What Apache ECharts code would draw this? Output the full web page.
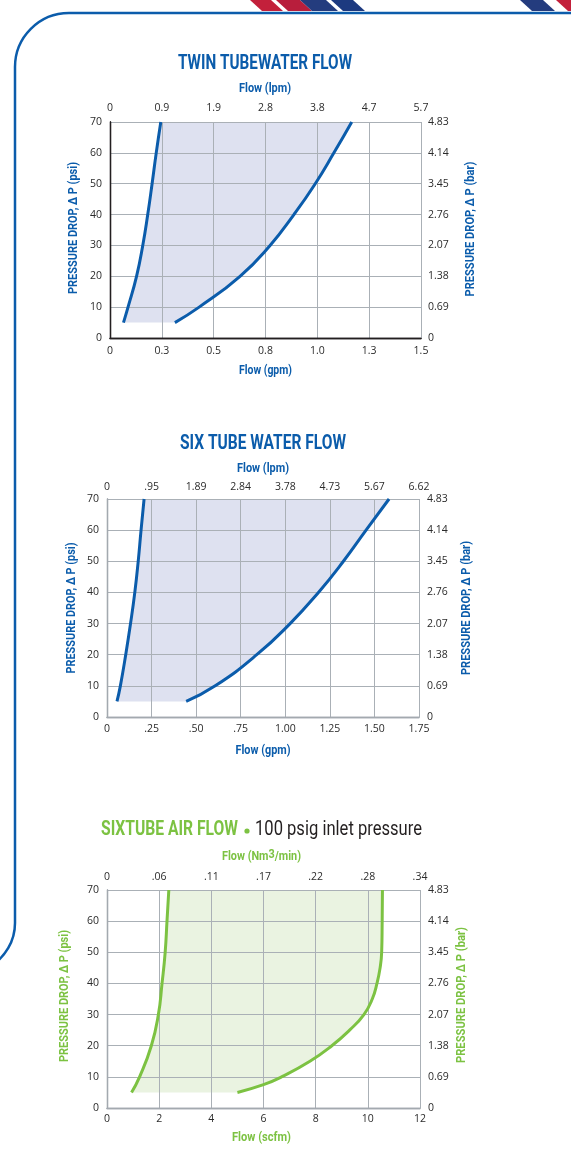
<!DOCTYPE html>
<html><head><meta charset="utf-8">
<script src="https://cdn.jsdelivr.net/npm/echarts@6/dist/echarts.min.js"></script>
<style>html,body{margin:0;padding:0;background:#fff;}#c{width:571px;height:1149px;}</style>
</head><body><div id="c"></div>
<script>
// ---------- DATA ----------
const psiTickLabels = ['0','10','20','30','40','50','60','70'];
const barTickLabels = ['0','0.69','1.38','2.07','2.76','3.45','4.14','4.83'];

// Twin tube water flow (gpm vs psi)
const twinGpmLabels = ['0','0.3','0.5','0.8','1.0','1.3','1.5'];
const twinLpmLabels = ['0','0.9','1.9','2.8','3.8','4.7','5.7'];
const twinLeftPsi  = [5, 10, 20, 30, 40, 50, 60, 70];
const twinLeftGpm  = [0.065, 0.087, 0.128, 0.158, 0.182, 0.203, 0.223, 0.245];
const twinRightPsi = [5, 10, 20, 30, 40, 50, 60, 70];
const twinRightGpm = [0.313, 0.430, 0.627, 0.772, 0.887, 0.990, 1.080, 1.166];

// Six tube water flow (gpm vs psi)
const sixGpmLabels = ['0','.25','.50','.75','1.00','1.25','1.50','1.75'];
const sixLpmLabels = ['0','.95','1.89','2.84','3.78','4.73','5.67','6.62'];
const sixLeftPsi  = [5, 10, 20, 30, 40, 50, 60, 70];
const sixLeftGpm  = [0.056, 0.075, 0.105, 0.132, 0.156, 0.175, 0.191, 0.208];
const sixRightPsi = [5, 10, 20, 30, 40, 50, 60, 70];
const sixRightGpm = [0.444, 0.607, 0.840, 1.027, 1.186, 1.326, 1.453, 1.582];

// Sixtube air flow (scfm vs psi)
const airScfmLabels = ['0','2','4','6','8','10','12'];
const airNm3Labels  = ['0','.06','.11','.17','.22','.28','.34'];
const airLeftPsi  = [5, 10, 20, 30, 40, 50, 60, 70];
const airLeftScfm = [0.94, 1.25, 1.70, 1.97, 2.11, 2.23, 2.30, 2.37];
const airRightPsi  = [5, 7.5, 10, 15, 20, 25, 30, 35, 40, 45, 50, 60, 70];
const airRightScfm = [5.0, 6.0, 6.69, 7.78, 8.62, 9.30, 9.85, 10.17, 10.35, 10.47, 10.53, 10.55, 10.56];

// ---------- STYLE ----------
const BLUE = '#0b5cab', BLUE_FILL = '#dee1f0';
const GREEN = '#7cc242', GREEN_FILL = '#eaf3e1';
const GRIDC = '#aab0b6';
const HEAD = 'Roboto,"Liberation Sans",sans-serif';
const LABELF = '"Open Sans","DejaVu Sans",sans-serif';

const mctx = document.createElement('canvas').getContext('2d');
function fit(text, weight, size, w) {
  mctx.font = weight + ' ' + size + 'px ' + HEAD;
  return w / mctx.measureText(text).width;
}

const charts = [
  { grid:{left:110, top:122, width:311, height:216}, max:1.5, interval:0.25,
    bottom:twinGpmLabels, top:twinLpmLabels, color:BLUE, fill:BLUE_FILL, border:'#231f20',
    margins:{top:8, bottom:8, left:8, right:7},
    names:{ bottom:['Flow (gpm)', 265.5, 371, 53], top:['Flow (lpm)', 265, 89, 52],
            left:['PRESSURE DROP, \u0394 P (psi)', 74, 228, 132], right:['PRESSURE DROP, \u0394 P (bar)', 471, 229, 135] },
    L:[twinLeftGpm, twinLeftPsi], R:[twinRightGpm, twinRightPsi] },
  { grid:{left:107, top:499, width:312, height:218}, max:1.75, interval:0.25,
    bottom:sixGpmLabels, top:sixLpmLabels, color:BLUE, fill:BLUE_FILL, border:'#a3a9af',
    margins:{top:6, bottom:7, left:8, right:8},
    names:{ bottom:['Flow (gpm)', 263, 751, 55], top:['Flow (lpm)', 263, 469, 52],
            left:['PRESSURE DROP, \u0394 P (psi)', 72, 608, 131], right:['PRESSURE DROP, \u0394 P (bar)', 467, 608, 134] },
    L:[sixLeftGpm, sixLeftPsi], R:[sixRightGpm, sixRightPsi] },
  { grid:{left:107, top:890, width:313, height:218}, max:12, interval:2,
    bottom:airScfmLabels, top:airNm3Labels, color:GREEN, fill:GREEN_FILL, border:'#a3a9af',
    margins:{top:7, bottom:6, left:8, right:8},
    names:{ bottom:['Flow (scfm)', 261.5, 1138, 59], top:['Flow (Nm3/min)', 261.5, 857, 79],
            left:['PRESSURE DROP, \u0394 P (psi)', 65, 996, 132], right:['PRESSURE DROP, \u0394 P (bar)', 462, 995, 136] },
    L:[airLeftScfm, airLeftPsi], R:[airRightScfm, airRightPsi] }
];

const zip = (xs, ys) => xs.map((x, i) => [x, ys[i]]);
const option = { animation:false, grid:[], xAxis:[], yAxis:[], series:[], graphic:[] };

charts.forEach((c, i) => {
  option.grid.push(c.grid);
  const lbl = { color:'#2b2b2b', fontFamily:LABELF, fontSize:10.5 };
  const base = { type:'value', gridIndex:i, min:0, max:c.max, interval:c.interval, z:3,
    axisTick:{show:false}, axisLine:{show:true, lineStyle:{color:c.border, width:1.3}} };
  option.xAxis.push(Object.assign({}, base, { position:'bottom',
    splitLine:{show:true, lineStyle:{color:GRIDC, width:1}},
    axisLabel:Object.assign({ margin:c.margins.bottom, showMaxLabel:true, showMinLabel:true,
      formatter:v => c.bottom[Math.round(v / c.interval)] }, lbl) }));
  option.xAxis.push(Object.assign({}, base, { position:'top', splitLine:{show:false},
    axisLabel:Object.assign({ margin:c.margins.top, showMaxLabel:true, showMinLabel:true,
      formatter:v => c.top[Math.round(v / c.interval)] }, lbl) }));
  const ybase = Object.assign({}, base, { min:0, max:70, interval:10 });
  option.yAxis.push(Object.assign({}, ybase, { position:'left',
    splitLine:{show:true, lineStyle:{color:GRIDC, width:1}},
    axisLabel:Object.assign({ margin:c.margins.left, formatter:v => psiTickLabels[Math.round(v / 10)] }, lbl) }));
  option.yAxis.push(Object.assign({}, ybase, { position:'right', splitLine:{show:false},
    axisLabel:Object.assign({ margin:c.margins.right, formatter:v => barTickLabels[Math.round(v / 10)] }, lbl) }));

  const leftPts = zip(c.L[0], c.L[1]);
  const rightPts = zip(c.R[0], c.R[1]);
  option.series.push({
    type:'custom', coordinateSystem:'cartesian2d', xAxisIndex:2*i, yAxisIndex:2*i, z:1, silent:true,
    data:[[0,0]],
    renderItem:(params, api) => {
      const l = leftPts.map(p => api.coord(p));
      const r = rightPts.slice().reverse().map(p => api.coord(p));
      const poly = [];
      poly.push(l[0], l[0]);
      for (let k = 1; k < l.length - 1; k++) poly.push(l[k]);
      poly.push(l[l.length-1], l[l.length-1]);
      poly.push(r[0], r[0]);
      for (let k = 1; k < r.length - 1; k++) poly.push(r[k]);
      poly.push(r[r.length-1], r[r.length-1]);
      return { type:'polygon', shape:{ points:poly, smooth:0.5 }, style:{ fill:c.fill, stroke:null } };
    }
  });
  [leftPts, rightPts].forEach(pts => option.series.push({
    type:'line', xAxisIndex:2*i, yAxisIndex:2*i, data:pts, smooth:true, symbol:'none', z:5,
    lineStyle:{ color:c.color, width:3 }, silent:true
  }));

  // axis names
  const n = c.names;
  const nameEl = (spec, rot) => {
    const s = fit(spec[0], 'bold', 12.5, spec[3]);
    const isNm = spec[0].indexOf('Nm3') >= 0;
    const style = { textAlign:'center', textVerticalAlign:'middle', fill:c.color,
      fontFamily:HEAD, fontWeight:'bold', fontSize:12.5 };
    if (isNm) {
      style.text = '{a|Flow (Nm}{b|3}{a|/min)}';
      style.rich = { a:{ fill:c.color, fontFamily:HEAD, fontWeight:'bold', fontSize:12.5 },
                     b:{ fill:c.color, fontFamily:HEAD, fontWeight:'bold', fontSize:12.5, padding:[0,0,5,0] } };
    } else style.text = spec[0];
    return { type:'text', x:spec[1], y:spec[2], rotation:rot, scaleX:s, style };
  };
  option.graphic.push(nameEl(n.bottom, 0), nameEl(n.top, 0),
                      nameEl(n.left, Math.PI/2), nameEl(n.right, Math.PI/2));
});

// titles
const T = (text, x, y, align, color, weight, w) => ({ type:'text', x, y, scaleX:fit(text, weight, 21, w),
  style:{ text, textAlign:align, textVerticalAlign:'middle', fill:color, fontFamily:HEAD, fontWeight:weight, fontSize:21 } });
option.graphic.push(
  T('TWIN TUBEWATER FLOW', 265, 64, 'center', BLUE, 'bold', 174),
  T('SIX TUBE WATER FLOW', 263, 444, 'center', BLUE, 'bold', 166),
  T('SIXTUBE AIR FLOW', 101, 830, 'left', GREEN, 'bold', 137),
  { type:'circle', shape:{cx:247, cy:831, r:2.6}, style:{fill:GREEN} },
  T('100 psig inlet pressure', 422, 830, 'right', '#231f20', 'normal', 167),
  // page frame
  { type:'line', shape:{x1:69, y1:13, x2:571, y2:13}, style:{stroke:BLUE, lineWidth:2.5} },
  { type:'arc', shape:{cx:69, cy:67, r:54, startAngle:Math.PI, endAngle:1.5*Math.PI, clockwise:true}, style:{stroke:BLUE, lineWidth:2.5, fill:null} },
  { type:'line', shape:{x1:15, y1:67, x2:15, y2:923}, style:{stroke:BLUE, lineWidth:2.5} },
  { type:'arc', shape:{cx:-35, cy:923, r:50, startAngle:0, endAngle:Math.PI/3, clockwise:true}, style:{stroke:BLUE, lineWidth:2.5, fill:null} },
  // decorative stripes
  { type:'polygon', shape:{points:[[250,0],[271,0],[283,11],[262,11]]}, style:{fill:'#c3203b'} },
  { type:'polygon', shape:{points:[[276,0],[300,0],[312,11],[288,11]]}, style:{fill:'#b81e3c'} },
  { type:'polygon', shape:{points:[[300,0],[326,0],[338,11],[312,11]]}, style:{fill:'#243c7e'} },
  { type:'polygon', shape:{points:[[331,0],[353,0],[365,11],[343,11]]}, style:{fill:'#1d3a80'} },
  { type:'polygon', shape:{points:[[520,0],[543,0],[555,11],[532,11]]}, style:{fill:'#243c7e'} },
  { type:'polygon', shape:{points:[[556,0],[571,0],[571,11],[568,11]]}, style:{fill:'#c3203b'} }
);

const chart = echarts.init(document.getElementById('c'), null, { renderer:'canvas' });
chart.setOption(option);
</script></body></html>
